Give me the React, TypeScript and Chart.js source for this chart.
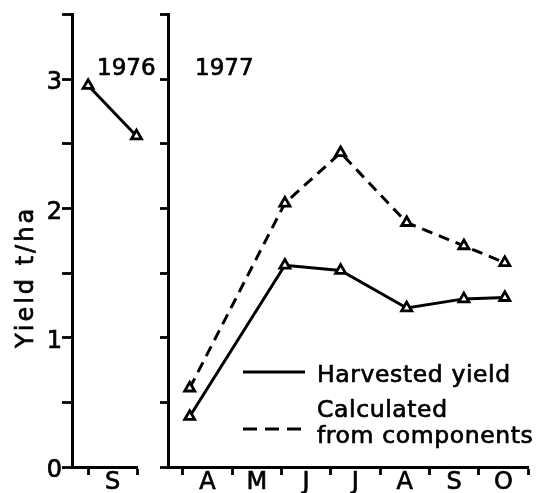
import React, { useEffect, useRef } from 'react';
import { Chart, registerables } from 'chart.js';
Chart.register(...registerables);

// ---- data ----
const months1976 = ['S'];
const months1977 = ['A', 'M', 'J', 'J', 'A', 'S', 'O'];
const yTickValues = [0, 0.5, 1, 1.5, 2, 2.5, 3, 3.5];
const yTickLabels = ['0', '', '1', '', '2', '', '3', ''];
// x = months after start of Sept (1976) / start of April (1977)
const x1976 = [0.0, 0.99];
const harvested1976 = [2.95, 2.56];
const x1977 = [0.14, 2.07, 3.2, 4.54, 5.7, 6.53];
const harvested1977 = [0.39, 1.56, 1.52, 1.23, 1.3, 1.31];
const calculated1977 = [0.61, 2.04, 2.43, 1.89, 1.71, 1.58];
const yearLabels = ['1976', '1977'];
const seriesNames = ['Harvested yield', 'Calculated\nfrom components'];
const yTitle = 'Yield t/ha';

const FONT = '"DejaVu Sans", sans-serif';
const W = 546;
const H = 493;
const LEFT_W = 170;
const RIGHT_X = 140;
const STROKE = 0.7;

function monthTicks(labels: string[]) {
  const ticks: { value: number }[] = [];
  for (let i = 0; i <= labels.length; i++) {
    ticks.push({ value: i });
    if (i < labels.length) ticks.push({ value: i + 0.5 });
  }
  return ticks;
}

function drawText(
  ctx: CanvasRenderingContext2D,
  text: string,
  x: number,
  y: number,
  size: number,
  spacing: number,
  align: CanvasTextAlign = 'left'
) {
  ctx.save();
  ctx.font = `${size}px ${FONT}`;
  (ctx as any).letterSpacing = spacing + 'px';
  ctx.fillStyle = '#000';
  ctx.strokeStyle = '#000';
  ctx.lineWidth = STROKE;
  ctx.lineJoin = 'round';
  ctx.textAlign = align;
  ctx.textBaseline = 'alphabetic';
  ctx.fillText(text, x, y);
  ctx.strokeText(text, x, y);
  ctx.restore();
}

function pts(xs: number[], ys: number[]) {
  return xs.map((x, i) => ({ x, y: ys[i] }));
}

const lineDataset = (label: string, data: { x: number; y: number }[], dash: number[]) => ({
  label,
  data,
  borderColor: '#000',
  backgroundColor: '#fff',
  borderWidth: 3,
  borderDash: dash,
  pointStyle: 'triangle',
  pointRadius: 5.8,
  pointBorderWidth: 2.8,
  pointBackgroundColor: '#fff',
  pointBorderColor: '#000',
  tension: 0,
  clip: false as any,
});

function yScale(width: number, tickLen: number, showLabels: boolean) {
  return {
    type: 'linear',
    min: 0,
    max: 3.5,
    afterBuildTicks: (s: any) => {
      s.ticks = yTickValues.map((v) => ({ value: v }));
    },
    afterFit: (s: any) => {
      s.width = width;
    },
    ticks: {
      callback: (_v: any, i: number) => (showLabels ? yTickLabels[i] : ''),
      color: '#000',
      font: { family: FONT, size: 24 },
      textStrokeColor: '#000',
      textStrokeWidth: STROKE,
      padding: 0,
      labelOffset: 4,
    },
    grid: {
      drawOnChartArea: false,
      drawTicks: true,
      tickLength: tickLen,
      tickWidth: 2.8,
      tickColor: '#000',
    },
    border: { display: true, color: '#000', width: 3 },
  };
}

function xScale(min: number, labels: string[]) {
  return {
    type: 'linear',
    min,
    max: labels.length,
    afterBuildTicks: (s: any) => {
      s.ticks = monthTicks(labels);
    },
    afterFit: (s: any) => {
      s.height = H - 467;
    },
    ticks: {
      autoSkip: false,
      maxRotation: 0,
      callback: (v: any) => {
        const n = Number(v);
        return Number.isInteger(n) ? '' : labels[Math.floor(n)];
      },
      color: '#000',
      font: { family: FONT, size: 24 },
      textStrokeColor: '#000',
      textStrokeWidth: STROKE,
      padding: -7,
    },
    grid: {
      drawOnChartArea: false,
      drawTicks: true,
      tickLength: 8,
      tickWidth: 2.8,
      tickColor: (c: any) => (Number.isInteger(c.tick?.value) ? '#000' : 'rgba(0,0,0,0)'),
    },
    border: { display: true, color: '#000', width: 3 },
  };
}

export default function App() {
  const leftRef = useRef<HTMLCanvasElement>(null);
  const rightRef = useRef<HTMLCanvasElement>(null);

  useEffect(() => {
    const leftPlugin = {
      id: 'leftAnno',
      afterDraw(chart: any) {
        const ctx = chart.ctx as CanvasRenderingContext2D;
        drawText(ctx, yearLabels[0], 97, 75, 23, 0);
        ctx.save();
        ctx.translate(33, 277);
        ctx.rotate(-Math.PI / 2);
        drawText(ctx, yTitle, 0, 0, 24, 3, 'center');
        ctx.restore();
      },
    };
    const rightPlugin = {
      id: 'rightAnno',
      afterDraw(chart: any) {
        const ctx = chart.ctx as CanvasRenderingContext2D;
        drawText(ctx, yearLabels[1], 195 - RIGHT_X, 75, 23, 0);
        const ds = chart.data.datasets;
        const rows = [
          { lineY: 372, textY: [382] },
          { lineY: 429, textY: [417, 443] },
        ];
        ds.forEach((d: any, i: number) => {
          const r = rows[i];
          ctx.save();
          ctx.strokeStyle = '#000';
          ctx.lineWidth = 3;
          ctx.setLineDash(d.borderDash && d.borderDash.length ? [14, 8] : []);
          ctx.beginPath();
          ctx.moveTo(243 - RIGHT_X, r.lineY);
          ctx.lineTo(305 - RIGHT_X, r.lineY);
          ctx.stroke();
          ctx.restore();
          const lines = String(d.label).split('\n');
          lines.forEach((t, j) => {
            drawText(ctx, t, 317 - RIGHT_X, r.textY[j], 23.5, 0.6);
          });
        });
      },
    };

    const left = new Chart(leftRef.current!, {
      type: 'line',
      data: {
        datasets: [lineDataset(seriesNames[0], pts(x1976, harvested1976), []) as any],
      },
      options: {
        responsive: false,
        animation: false,
        devicePixelRatio: 1,
        layout: { padding: { top: 13, right: LEFT_W - 137, left: 0, bottom: 0 } },
        plugins: { legend: { display: false }, tooltip: { enabled: false }, title: { display: false } },
        scales: {
          x: xScale(-0.33, months1976) as any,
          y: yScale(72, 10, true) as any,
        },
      },
      plugins: [leftPlugin],
    });

    const right = new Chart(rightRef.current!, {
      type: 'line',
      data: {
        datasets: [
          lineDataset(seriesNames[0], pts(x1977, harvested1977), []) as any,
          lineDataset(seriesNames[1], pts(x1977, calculated1977), [11, 7]) as any,
        ],
      },
      options: {
        responsive: false,
        animation: false,
        devicePixelRatio: 1,
        layout: { padding: { top: 13, right: W - 528, left: 0, bottom: 0 } },
        plugins: { legend: { display: false }, tooltip: { enabled: false }, title: { display: false } },
        scales: {
          x: xScale(-0.3, months1977) as any,
          y: yScale(168 - RIGHT_X, 8, false) as any,
        },
      },
      plugins: [rightPlugin],
    });

    return () => {
      left.destroy();
      right.destroy();
    };
  }, []);

  return (
    <div style={{ position: 'absolute', left: 0, top: 0, width: W, height: H, background: '#fff' }}>
      <canvas
        ref={leftRef}
        width={LEFT_W}
        height={H}
        style={{ position: 'absolute', left: 0, top: 0, width: LEFT_W, height: H }}
      />
      <canvas
        ref={rightRef}
        width={W - RIGHT_X}
        height={H}
        style={{ position: 'absolute', left: RIGHT_X, top: 0, width: W - RIGHT_X, height: H }}
      />
    </div>
  );
}
